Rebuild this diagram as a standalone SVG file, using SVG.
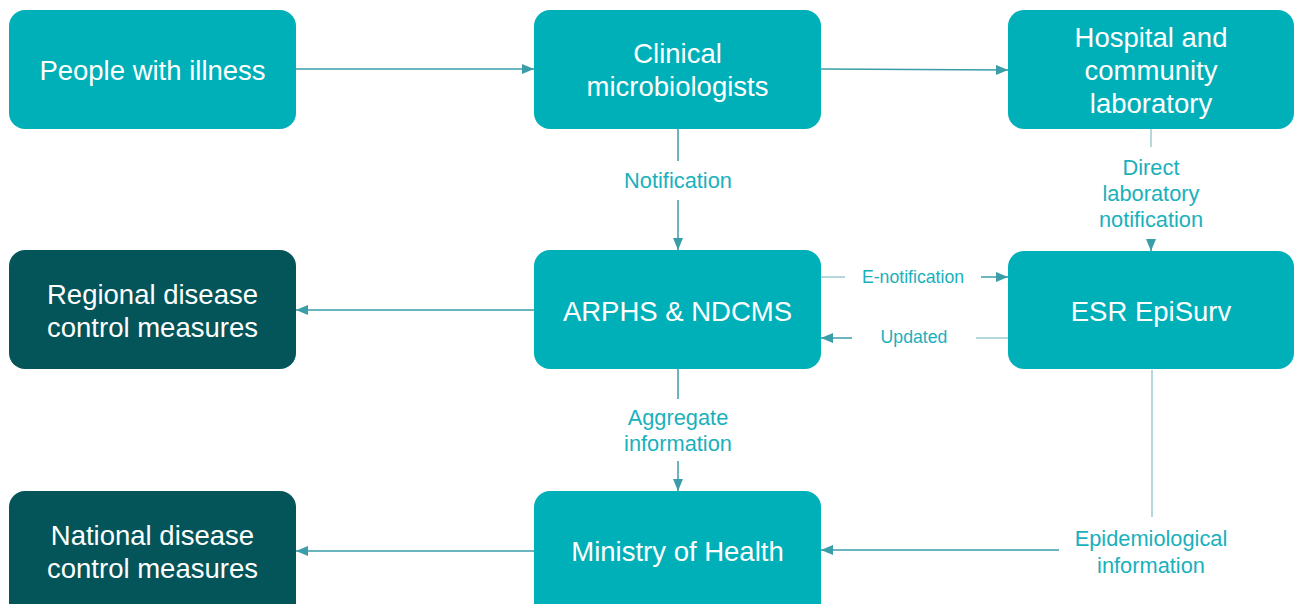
<svg xmlns="http://www.w3.org/2000/svg" width="1295" height="604" viewBox="0 0 1295 604">
<style>
.n{fill:#00B0B9}
.d{fill:#03555A}
.t{font-family:"Liberation Sans",Arial,sans-serif;font-size:27.5px;fill:#fff;text-anchor:middle}
.l{font-family:"Liberation Sans",Arial,sans-serif;font-size:21.8px;fill:#1AB0BC;text-anchor:middle}
.ls{font-family:"Liberation Sans",Arial,sans-serif;font-size:17.7px;fill:#1AB0BC;text-anchor:middle}
.c{stroke:#3A9DA8;stroke-width:1.5;fill:none}
.cl{stroke:#9CCBD2;stroke-width:1.5;fill:none}
</style>
<defs>
<marker id="a" viewBox="0 0 12 10" refX="12" refY="5" markerWidth="12" markerHeight="10" markerUnits="userSpaceOnUse" orient="auto">
<path d="M0,0L12,5L0,10Z" fill="#3A9DA8"/>
</marker>
</defs>
<rect width="1295" height="604" fill="#fff"/>
<g id="connectors">
<line class="c" x1="296" y1="69" x2="534" y2="69" marker-end="url(#a)"/>
<line class="c" x1="821" y1="69" x2="1008" y2="70" marker-end="url(#a)"/>
<line class="c" x1="678" y1="129" x2="678" y2="161"/>
<line class="c" x1="678" y1="200" x2="678" y2="250" marker-end="url(#a)"/>
<text class="l" x="678" y="188">Notification</text>
<line class="cl" x1="1151" y1="129" x2="1151" y2="147"/>
<line class="c" x1="1151" y1="239" x2="1151" y2="251" marker-end="url(#a)"/>
<text class="l" x="1151" y="175">Direct</text>
<text class="l" x="1151" y="201">laboratory</text>
<text class="l" x="1151" y="227">notification</text>
<line class="c" x1="534" y1="310" x2="296" y2="310" marker-end="url(#a)"/>
<line class="cl" x1="821" y1="277" x2="845" y2="277"/>
<line class="c" x1="981" y1="277" x2="1008" y2="277" marker-end="url(#a)"/>
<text class="ls" x="913" y="283">E-notification</text>
<line class="cl" x1="1008" y1="338" x2="976" y2="338"/>
<line class="c" x1="852" y1="338" x2="821" y2="338" marker-end="url(#a)"/>
<text class="ls" x="914" y="343">Updated</text>
<line class="c" x1="678" y1="369" x2="678" y2="399"/>
<line class="c" x1="678" y1="461" x2="678" y2="491" marker-end="url(#a)"/>
<text class="l" x="678" y="425">Aggregate</text>
<text class="l" x="678" y="451">information</text>
<line class="cl" x1="1152" y1="370" x2="1152" y2="517"/>
<line class="c" x1="1059" y1="550" x2="821" y2="550" marker-end="url(#a)"/>
<text class="l" x="1151" y="546">Epidemiological</text>
<text class="l" x="1151" y="573">information</text>
<line class="c" x1="534" y1="551" x2="296" y2="551" marker-end="url(#a)"/>
</g>
<g id="people">
<rect class="n" x="9" y="10" width="287" height="119" rx="16"/>
<text class="t" x="152.5" y="80">People with illness</text>
</g>
<g id="clinical">
<rect class="n" x="534" y="10" width="287" height="119" rx="16"/>
<text class="t" x="677.5" y="63">Clinical</text>
<text class="t" x="677.5" y="96">microbiologists</text>
</g>
<g id="hospital">
<rect class="n" x="1008" y="10" width="286" height="119" rx="16"/>
<text class="t" x="1151" y="47">Hospital and</text>
<text class="t" x="1151" y="80">community</text>
<text class="t" x="1151" y="113">laboratory</text>
</g>
<g id="regional">
<rect class="d" x="9" y="250" width="287" height="119" rx="16"/>
<text class="t" x="152.5" y="304">Regional disease</text>
<text class="t" x="152.5" y="337">control measures</text>
</g>
<g id="arphs">
<rect class="n" x="534" y="250" width="287" height="119" rx="16"/>
<text class="t" x="677.5" y="321">ARPHS &amp; NDCMS</text>
</g>
<g id="esr">
<rect class="n" x="1008" y="251" width="286" height="118" rx="16"/>
<text class="t" x="1151" y="321">ESR EpiSurv</text>
</g>
<g id="national">
<rect class="d" x="9" y="491" width="287" height="130" rx="16"/>
<text class="t" x="152.5" y="545">National disease</text>
<text class="t" x="152.5" y="578">control measures</text>
</g>
<g id="ministry">
<rect class="n" x="534" y="491" width="287" height="130" rx="16"/>
<text class="t" x="677.5" y="561">Ministry of Health</text>
</g>
</svg>
